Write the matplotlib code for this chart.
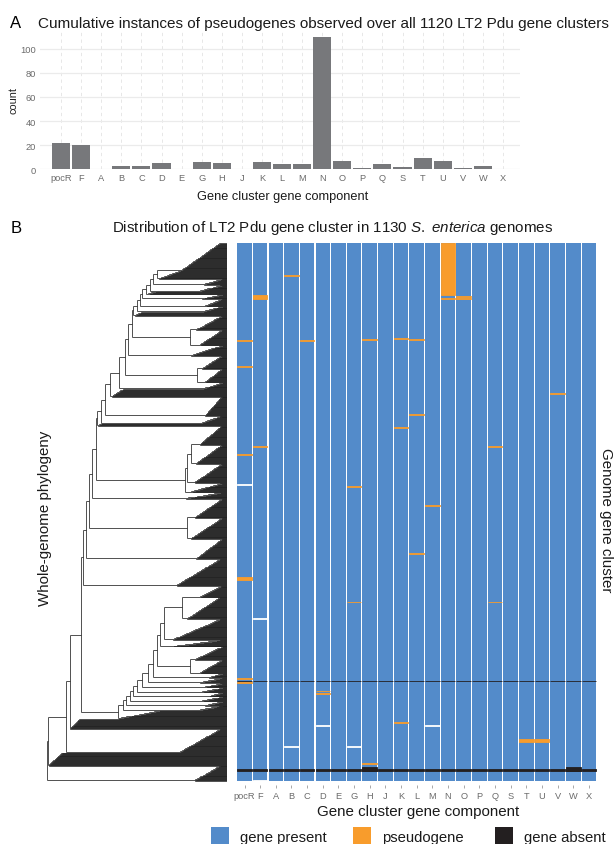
import numpy as np
import matplotlib.pyplot as plt
from matplotlib.collections import LineCollection
from matplotlib.patches import Rectangle

plt.rcParams['font.family'] = ['Liberation Sans', 'DejaVu Sans']
plt.rcParams['mathtext.fontset'] = 'custom'
plt.rcParams['mathtext.rm'] = 'Liberation Sans'
plt.rcParams['mathtext.it'] = 'Liberation Sans:italic'

genes = ['pocR', 'F', 'A', 'B', 'C', 'D', 'E', 'G', 'H', 'J', 'K', 'L',
         'M', 'N', 'O', 'P', 'Q', 'S', 'T', 'U', 'V', 'W', 'X']
pseudo_counts = [22, 20, 0, 3, 3, 5, 0, 6, 5, 0, 6, 4, 4, 110, 7, 1, 4, 2, 9, 7, 1, 3, 0]

n_genomes = 1130
# heatmap rows (genomes in tree order, top = 0): (gene, first row, n rows)
pseudo_rows = [('pocR', 204, 1), ('pocR', 259, 1), ('pocR', 444, 1), ('pocR', 702, 5),
               ('pocR', 914, 1), ('pocR', 923, 1), ('F', 109, 8), ('F', 427, 1),
               ('B', 68, 1), ('C', 204, 1), ('D', 940, 1), ('D', 946, 1),
               ('G', 511, 1), ('G', 753, 1), ('H', 202, 1), ('H', 1093, 1),
               ('K', 200, 1), ('K', 387, 1), ('K', 1007, 1), ('L', 202, 1),
               ('L', 360, 1), ('L', 652, 1), ('M', 551, 1), ('N', 0, 110),
               ('N', 116, 1), ('O', 112, 1), ('O', 116, 1), ('Q', 427, 1),
               ('Q', 753, 1), ('T', 1042, 6), ('U', 1042, 6), ('V', 316, 1)]
absent_rows = [('all', 919, 1), ('all', 1104, 5), ('H', 1101, 8), ('W', 1101, 8)]
missing_rows = [('pocR', 507, 1), ('F', 788, 1), ('F', 1127, 3), ('B', 1057, 1),
                ('D', 1013, 1), ('G', 1057, 1), ('M', 1013, 1)]


# whole-genome tree (relative depth, root = 0, tips = 1)
# ('fan', n, d0, d1): ladder of n tips whose nodes run from depth d0 up to d1
# ladder steps are listed from the bottom up: (node depth, clade hanging below)
def fan(n, d0, d1):
    return ('fan', n, d0, d1)


def ladder(steps, top):
    node = top
    for d, side in reversed(steps):
        node = [d, node, side]
    return node


big_clade = ladder([
    (0.396, fan(18, 0.40, 0.62)),
    (0.42, fan(10, 0.85, 0.97)), (0.44, fan(9, 0.88, 0.97)),
    (0.46, fan(10, 0.86, 0.97)), (0.48, fan(9, 0.90, 0.97)),
    (0.50, fan(10, 0.86, 0.97)), (0.53, fan(10, 0.88, 0.97)),
    (0.56, fan(10, 0.85, 0.97)), (0.59, fan(10, 0.90, 0.97)),
    (0.609, [0.794, fan(28, 0.82, 0.97), fan(28, 0.85, 0.97)]),
    (0.628, fan(14, 0.70, 0.96)),
    (0.65, fan(44, 0.70, 0.96)),
    (0.75, fan(46, 0.78, 0.96)),
], fan(24, 0.85, 0.97))

mid_clade = ladder([
    (0.767, fan(20, 0.80, 0.97)),
    (0.78, fan(40, 0.82, 0.97)),
], [0.80, fan(40, 0.85, 0.97), fan(40, 0.83, 0.97)])

backbone = [
    (0.000, fan(32, 0.82, 0.96)),
    (0.005, fan(28, 0.01, 0.085)),
    (0.104, fan(49, 0.74, 0.96)),
    (0.128, fan(21, 0.13, 0.18)),
    (0.187, big_clade),
    (0.202, fan(56, 0.72, 0.96)),
    (0.217, fan(42, 0.83, 0.97)),
    (0.235, [0.776, fan(40, 0.82, 0.97), fan(44, 0.80, 0.97)]),
    (0.252, fan(14, 0.77, 0.96)),
    (0.272, mid_clade),
    (0.28, fan(5, 0.285, 0.30)),
    (0.30, fan(16, 0.86, 0.97)),
    (0.32, fan(40, 0.88, 0.97)),
    (0.35, fan(16, 0.36, 0.42)),
    (0.40, fan(14, 0.87, 0.97)),
    (0.433, [0.831, fan(28, 0.86, 0.97), fan(28, 0.88, 0.97)]),
    (0.448, fan(22, 0.80, 0.97)),
    (0.47, [0.794, fan(30, 0.83, 0.97), fan(32, 0.85, 0.97)]),
    (0.48, fan(8, 0.49, 0.52)),
    (0.50, fan(12, 0.87, 0.97)),
    (0.517, fan(15, 0.88, 0.97)),
    (0.53, fan(10, 0.86, 0.97)),
    (0.55, fan(6, 0.56, 0.60)),
    (0.57, fan(14, 0.85, 0.97)),
    (0.59, fan(12, 0.87, 0.97)),
    (0.61, fan(18, 0.62, 0.74)),
]
top_clade = fan(58, 0.75, 0.96)

blue = '#538bca'
orange = '#f89c2c'
black = '#231f20'
bar_grey = '#77787b'
tick_grey = '#6b6b6b'

W, H = 614, 845
fig = plt.figure(figsize=(W / 100, H / 100), dpi=100)


def box(x0, y0, x1, y1):
    return [x0 / W, 1 - y1 / H, (x1 - x0) / W, (y1 - y0) / H]


def ftext(x, y, s, **kw):
    fig.text(x / W, 1 - y / H, s, **kw)


# ---- panel A
axA = fig.add_axes(box(40, 31, 520, 170.3))
xs = np.arange(len(genes))
axA.bar(xs, pseudo_counts, width=0.9, color=bar_grey, zorder=2)
axA.set_xlim(-1.05, len(genes) - 0.15)
axA.set_ylim(0, 115.5)
axA.set_yticks([0, 20, 40, 60, 80, 100])
axA.set_xticks(xs)
axA.set_xticklabels(genes)
axA.tick_params(length=0, labelsize=6.7, labelcolor=tick_grey, pad=3)
for s in axA.spines.values():
    s.set_visible(False)
axA.grid(axis='y', color='#ebebeb', lw=0.9, zorder=0)
axA.grid(axis='x', color='#e3e3e3', lw=0.6, ls=(0, (4, 4)), zorder=0)
axA.set_ylabel('count', fontsize=7.9, labelpad=1, color='#222222')
ftext(10, 28, 'A', fontsize=12, va='baseline')
ftext(38, 28, 'Cumulative instances of pseudogenes observed over all 1120 LT2 Pdu gene clusters',
      fontsize=11, va='baseline', color='#1a1a1a')
ftext(283, 200, 'Gene cluster gene component', fontsize=9.2, va='baseline',
      ha='center', color='#1a1a1a')

# ---- panel B heatmap
ylo = n_genomes + 4 / 0.4761
axH = fig.add_axes(box(236.7, 244, 596.7, 786))
axH.bar(xs, n_genomes, bottom=0, width=0.93, color=blue, lw=0)


def stripes(rows, color):
    for g, r0, n in rows:
        cols = xs if g == 'all' else [genes.index(g)]
        axH.bar(cols, n, bottom=r0, width=0.93, color=color,
                edgecolor=color, lw=0.6)


stripes(pseudo_rows, orange)
stripes(missing_rows, 'white')
stripes(absent_rows, black)
axH.set_xlim(-0.5, len(genes) - 0.5)
axH.set_ylim(ylo, 0)
axH.set_xticks(xs)
axH.set_xticklabels(genes)
axH.set_yticks([])
axH.tick_params(axis='x', length=2.2, width=0.6, color='#9a9a9a',
                labelsize=6.7, labelcolor=tick_grey, pad=2)
for s in axH.spines.values():
    s.set_visible(False)

# ---- panel B tree
segs = []
tip = [0]


def place(node):
    if isinstance(node, tuple):
        _, n, d0, d1 = node
        ys = [tip[0] + i + 0.5 for i in range(n)]
        tip[0] += n
        if n == 1:
            return ys[0], 1.0
        depths = [d0 + (d1 - d0) * k / max(n - 2, 1) for k in range(n - 1)]
        ya, da = ys[0], 1.0
        for j in range(n - 2, -1, -1):
            yb = ys[n - 1 - j]
            dj = depths[j]
            segs.append([(dj, ya), (da, ya)])
            segs.append([(dj, yb), (1.0, yb)])
            segs.append([(dj, ya), (dj, yb)])
            ya, da = (ya + yb) / 2, dj
        return ya, da
    d = node[0]
    kids = [place(c) for c in node[1:]]
    for y, dc in kids:
        segs.append([(d, y), (dc, y)])
    segs.append([(d, kids[0][0]), (d, kids[-1][0])])
    return (kids[0][0] + kids[-1][0]) / 2, d


place(ladder(backbone, top_clade))

axT = fig.add_axes(box(47, 244, 227, 786))
axT.add_collection(LineCollection(segs, colors='#222222', linewidths=0.55))
axT.set_xlim(0, 1)
axT.set_ylim(ylo, 0)
axT.axis('off')

ftext(11, 232.7, 'B', fontsize=12, va='baseline')
ftext(112, 232, r'Distribution of LT2 Pdu gene cluster in 1130 $\mathit{S.}$ $\mathit{enterica}$ genomes',
      fontsize=10.9, va='baseline', color='#1a1a1a')
ftext(418, 816, 'Gene cluster gene component', fontsize=10.9, va='baseline',
      ha='center', color='#1a1a1a')
ftext(606, 520, 'Genome gene cluster', fontsize=10.9, rotation=-90,
      ha='center', va='center', color='#1a1a1a')
ftext(45, 518, 'Whole-genome phylogeny', fontsize=10.9, rotation=90,
      ha='center', va='center', color='#1a1a1a')

# ---- legend
legend_items = [('gene present', blue, 211), ('pseudogene', orange, 353),
                ('gene absent', black, 495)]
for label, col, x0 in legend_items:
    fig.add_artist(Rectangle((x0 / W, 1 - 845 / H), 18 / W, 17 / H,
                             transform=fig.transFigure, color=col, lw=0))
    ftext(x0 + 29, 841.7, label, fontsize=10.7, va='baseline', color='#1a1a1a')

fig.savefig('out.png', dpi=100)
